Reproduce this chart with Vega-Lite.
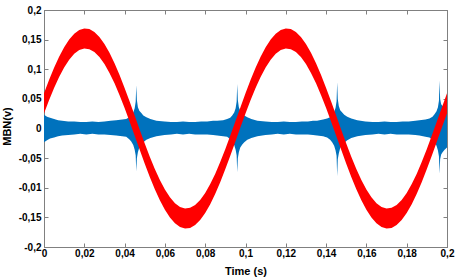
{
  "$schema": "https://vega.github.io/schema/vega-lite/v6.json",
  "width": 403,
  "height": 237,
  "autosize": {"type": "none"},
  "padding": {"left": 44, "top": 10, "right": 17, "bottom": 32},
  "background": "white",
  "config": {
    "view": {"stroke": "#808080", "strokeWidth": 1},
    "axis": {
      "grid": false,
      "domainColor": "#808080",
      "tickColor": "#808080",
      "tickSize": -4,
      "labelFont": "Liberation Sans",
      "labelFontWeight": "bold",
      "labelFontSize": 10,
      "labelColor": "#000000",
      "labelFlush": false,
      "labelOverlap": false,
      "titleFont": "Liberation Sans",
      "titleFontWeight": "bold",
      "titleFontSize": 11,
      "titleColor": "#000000"
    }
  },
  "datasets": {
    "blue": [
      {"t": 0, "lo": -0.023, "hi": 0.023},
      {"t": 0.0015, "lo": -0.02, "hi": 0.02},
      {"t": 0.003, "lo": -0.017, "hi": 0.018},
      {"t": 0.005, "lo": -0.015, "hi": 0.016},
      {"t": 0.007, "lo": -0.013, "hi": 0.014},
      {"t": 0.009, "lo": -0.012, "hi": 0.013},
      {"t": 0.012, "lo": -0.011, "hi": 0.012},
      {"t": 0.015, "lo": -0.01, "hi": 0.012},
      {"t": 0.018, "lo": -0.009, "hi": 0.011},
      {"t": 0.021, "lo": -0.01, "hi": 0.011},
      {"t": 0.024, "lo": -0.009, "hi": 0.012},
      {"t": 0.027, "lo": -0.01, "hi": 0.011},
      {"t": 0.03, "lo": -0.01, "hi": 0.012},
      {"t": 0.033, "lo": -0.011, "hi": 0.013},
      {"t": 0.0358, "lo": -0.012, "hi": 0.014},
      {"t": 0.0388, "lo": -0.013, "hi": 0.015},
      {"t": 0.0408, "lo": -0.014, "hi": 0.016},
      {"t": 0.0423, "lo": -0.018, "hi": 0.019},
      {"t": 0.0433, "lo": -0.022, "hi": 0.022},
      {"t": 0.0443, "lo": -0.028, "hi": 0.027},
      {"t": 0.045, "lo": -0.036, "hi": 0.034},
      {"t": 0.0455, "lo": -0.045, "hi": 0.045},
      {"t": 0.0458, "lo": -0.072, "hi": 0.073},
      {"t": 0.0461, "lo": -0.05, "hi": 0.048},
      {"t": 0.0466, "lo": -0.04, "hi": 0.036},
      {"t": 0.0473, "lo": -0.032, "hi": 0.03},
      {"t": 0.0483, "lo": -0.027, "hi": 0.026},
      {"t": 0.0493, "lo": -0.023, "hi": 0.022},
      {"t": 0.0508, "lo": -0.019, "hi": 0.019},
      {"t": 0.0528, "lo": -0.016, "hi": 0.016},
      {"t": 0.0558, "lo": -0.013, "hi": 0.013},
      {"t": 0.0598, "lo": -0.011, "hi": 0.012},
      {"t": 0.063, "lo": -0.01, "hi": 0.011},
      {"t": 0.066, "lo": -0.009, "hi": 0.011},
      {"t": 0.069, "lo": -0.01, "hi": 0.012},
      {"t": 0.072, "lo": -0.009, "hi": 0.011},
      {"t": 0.075, "lo": -0.01, "hi": 0.011},
      {"t": 0.078, "lo": -0.01, "hi": 0.012},
      {"t": 0.081, "lo": -0.01, "hi": 0.012},
      {"t": 0.0839, "lo": -0.011, "hi": 0.013},
      {"t": 0.0859, "lo": -0.012, "hi": 0.013},
      {"t": 0.0889, "lo": -0.013, "hi": 0.014},
      {"t": 0.0909, "lo": -0.014, "hi": 0.016},
      {"t": 0.0924, "lo": -0.018, "hi": 0.018},
      {"t": 0.0934, "lo": -0.022, "hi": 0.022},
      {"t": 0.0944, "lo": -0.028, "hi": 0.027},
      {"t": 0.0951, "lo": -0.036, "hi": 0.034},
      {"t": 0.0956, "lo": -0.045, "hi": 0.045},
      {"t": 0.0959, "lo": -0.074, "hi": 0.075},
      {"t": 0.0962, "lo": -0.05, "hi": 0.048},
      {"t": 0.0967, "lo": -0.04, "hi": 0.036},
      {"t": 0.0974, "lo": -0.032, "hi": 0.03},
      {"t": 0.0984, "lo": -0.027, "hi": 0.026},
      {"t": 0.0994, "lo": -0.023, "hi": 0.022},
      {"t": 0.1009, "lo": -0.019, "hi": 0.019},
      {"t": 0.1029, "lo": -0.016, "hi": 0.016},
      {"t": 0.1059, "lo": -0.013, "hi": 0.013},
      {"t": 0.1099, "lo": -0.011, "hi": 0.012},
      {"t": 0.113, "lo": -0.01, "hi": 0.011},
      {"t": 0.116, "lo": -0.009, "hi": 0.011},
      {"t": 0.119, "lo": -0.01, "hi": 0.012},
      {"t": 0.122, "lo": -0.009, "hi": 0.011},
      {"t": 0.125, "lo": -0.01, "hi": 0.011},
      {"t": 0.128, "lo": -0.01, "hi": 0.012},
      {"t": 0.131, "lo": -0.01, "hi": 0.012},
      {"t": 0.1335, "lo": -0.011, "hi": 0.013},
      {"t": 0.1355, "lo": -0.012, "hi": 0.013},
      {"t": 0.1385, "lo": -0.013, "hi": 0.015},
      {"t": 0.1405, "lo": -0.015, "hi": 0.017},
      {"t": 0.142, "lo": -0.019, "hi": 0.019},
      {"t": 0.143, "lo": -0.023, "hi": 0.023},
      {"t": 0.144, "lo": -0.029, "hi": 0.028},
      {"t": 0.1447, "lo": -0.037, "hi": 0.035},
      {"t": 0.1452, "lo": -0.046, "hi": 0.046},
      {"t": 0.1455, "lo": -0.08, "hi": 0.078},
      {"t": 0.1458, "lo": -0.052, "hi": 0.05},
      {"t": 0.1463, "lo": -0.042, "hi": 0.038},
      {"t": 0.147, "lo": -0.033, "hi": 0.031},
      {"t": 0.148, "lo": -0.028, "hi": 0.027},
      {"t": 0.149, "lo": -0.024, "hi": 0.023},
      {"t": 0.1505, "lo": -0.02, "hi": 0.02},
      {"t": 0.1525, "lo": -0.016, "hi": 0.017},
      {"t": 0.1555, "lo": -0.013, "hi": 0.014},
      {"t": 0.1595, "lo": -0.011, "hi": 0.012},
      {"t": 0.163, "lo": -0.01, "hi": 0.011},
      {"t": 0.166, "lo": -0.009, "hi": 0.011},
      {"t": 0.169, "lo": -0.01, "hi": 0.012},
      {"t": 0.172, "lo": -0.009, "hi": 0.011},
      {"t": 0.175, "lo": -0.01, "hi": 0.011},
      {"t": 0.178, "lo": -0.01, "hi": 0.012},
      {"t": 0.181, "lo": -0.01, "hi": 0.012},
      {"t": 0.1843, "lo": -0.011, "hi": 0.013},
      {"t": 0.1863, "lo": -0.012, "hi": 0.014},
      {"t": 0.1893, "lo": -0.014, "hi": 0.015},
      {"t": 0.1913, "lo": -0.015, "hi": 0.017},
      {"t": 0.1928, "lo": -0.019, "hi": 0.02},
      {"t": 0.1938, "lo": -0.023, "hi": 0.024},
      {"t": 0.1948, "lo": -0.029, "hi": 0.029},
      {"t": 0.1955, "lo": -0.037, "hi": 0.036},
      {"t": 0.196, "lo": -0.047, "hi": 0.047},
      {"t": 0.1963, "lo": -0.076, "hi": 0.081},
      {"t": 0.1966, "lo": -0.052, "hi": 0.05},
      {"t": 0.1971, "lo": -0.044, "hi": 0.041},
      {"t": 0.1978, "lo": -0.04, "hi": 0.038},
      {"t": 0.1988, "lo": -0.036, "hi": 0.034},
      {"t": 0.2, "lo": -0.032, "hi": 0.03}
    ],
    "red": [
      {"t": 0, "lo": 0.0254, "hi": 0.0594},
      {"t": 0.0025, "lo": 0.0477, "hi": 0.0817},
      {"t": 0.005, "lo": 0.0684, "hi": 0.1024},
      {"t": 0.0075, "lo": 0.087, "hi": 0.121},
      {"t": 0.01, "lo": 0.1031, "hi": 0.1371},
      {"t": 0.0125, "lo": 0.1162, "hi": 0.1502},
      {"t": 0.015, "lo": 0.126, "hi": 0.16},
      {"t": 0.0175, "lo": 0.1323, "hi": 0.1663},
      {"t": 0.02, "lo": 0.1349, "hi": 0.1689},
      {"t": 0.0225, "lo": 0.1338, "hi": 0.1678},
      {"t": 0.025, "lo": 0.129, "hi": 0.163},
      {"t": 0.0275, "lo": 0.1205, "hi": 0.1545},
      {"t": 0.03, "lo": 0.1087, "hi": 0.1427},
      {"t": 0.0325, "lo": 0.0938, "hi": 0.1278},
      {"t": 0.035, "lo": 0.0762, "hi": 0.1102},
      {"t": 0.0375, "lo": 0.0562, "hi": 0.0902},
      {"t": 0.04, "lo": 0.0345, "hi": 0.0685},
      {"t": 0.0425, "lo": 0.0115, "hi": 0.0455},
      {"t": 0.045, "lo": -0.0122, "hi": 0.0218},
      {"t": 0.0475, "lo": -0.036, "hi": -0.002},
      {"t": 0.05, "lo": -0.0594, "hi": -0.0254},
      {"t": 0.0525, "lo": -0.0817, "hi": -0.0477},
      {"t": 0.055, "lo": -0.1024, "hi": -0.0684},
      {"t": 0.0575, "lo": -0.121, "hi": -0.087},
      {"t": 0.06, "lo": -0.1371, "hi": -0.1031},
      {"t": 0.0625, "lo": -0.1502, "hi": -0.1162},
      {"t": 0.065, "lo": -0.16, "hi": -0.126},
      {"t": 0.0675, "lo": -0.1663, "hi": -0.1323},
      {"t": 0.07, "lo": -0.1689, "hi": -0.1349},
      {"t": 0.0725, "lo": -0.1678, "hi": -0.1338},
      {"t": 0.075, "lo": -0.163, "hi": -0.129},
      {"t": 0.0775, "lo": -0.1545, "hi": -0.1205},
      {"t": 0.08, "lo": -0.1427, "hi": -0.1087},
      {"t": 0.0825, "lo": -0.1278, "hi": -0.0938},
      {"t": 0.085, "lo": -0.1102, "hi": -0.0762},
      {"t": 0.0875, "lo": -0.0902, "hi": -0.0562},
      {"t": 0.09, "lo": -0.0685, "hi": -0.0345},
      {"t": 0.0925, "lo": -0.0455, "hi": -0.0115},
      {"t": 0.095, "lo": -0.0218, "hi": 0.0122},
      {"t": 0.0975, "lo": 0.002, "hi": 0.036},
      {"t": 0.1, "lo": 0.0254, "hi": 0.0594},
      {"t": 0.1025, "lo": 0.0477, "hi": 0.0817},
      {"t": 0.105, "lo": 0.0684, "hi": 0.1024},
      {"t": 0.1075, "lo": 0.087, "hi": 0.121},
      {"t": 0.11, "lo": 0.1031, "hi": 0.1371},
      {"t": 0.1125, "lo": 0.1162, "hi": 0.1502},
      {"t": 0.115, "lo": 0.126, "hi": 0.16},
      {"t": 0.1175, "lo": 0.1323, "hi": 0.1663},
      {"t": 0.12, "lo": 0.1349, "hi": 0.1689},
      {"t": 0.1225, "lo": 0.1338, "hi": 0.1678},
      {"t": 0.125, "lo": 0.129, "hi": 0.163},
      {"t": 0.1275, "lo": 0.1205, "hi": 0.1545},
      {"t": 0.13, "lo": 0.1087, "hi": 0.1427},
      {"t": 0.1325, "lo": 0.0938, "hi": 0.1278},
      {"t": 0.135, "lo": 0.0762, "hi": 0.1102},
      {"t": 0.1375, "lo": 0.0562, "hi": 0.0902},
      {"t": 0.14, "lo": 0.0345, "hi": 0.0685},
      {"t": 0.1425, "lo": 0.0115, "hi": 0.0455},
      {"t": 0.145, "lo": -0.0122, "hi": 0.0218},
      {"t": 0.1475, "lo": -0.036, "hi": -0.002},
      {"t": 0.15, "lo": -0.0594, "hi": -0.0254},
      {"t": 0.1525, "lo": -0.0817, "hi": -0.0477},
      {"t": 0.155, "lo": -0.1024, "hi": -0.0684},
      {"t": 0.1575, "lo": -0.121, "hi": -0.087},
      {"t": 0.16, "lo": -0.1371, "hi": -0.1031},
      {"t": 0.1625, "lo": -0.1502, "hi": -0.1162},
      {"t": 0.165, "lo": -0.16, "hi": -0.126},
      {"t": 0.1675, "lo": -0.1663, "hi": -0.1323},
      {"t": 0.17, "lo": -0.1689, "hi": -0.1349},
      {"t": 0.1725, "lo": -0.1678, "hi": -0.1338},
      {"t": 0.175, "lo": -0.163, "hi": -0.129},
      {"t": 0.1775, "lo": -0.1545, "hi": -0.1205},
      {"t": 0.18, "lo": -0.1427, "hi": -0.1087},
      {"t": 0.1825, "lo": -0.1278, "hi": -0.0938},
      {"t": 0.185, "lo": -0.1102, "hi": -0.0762},
      {"t": 0.1875, "lo": -0.0902, "hi": -0.0562},
      {"t": 0.19, "lo": -0.0685, "hi": -0.0345},
      {"t": 0.1925, "lo": -0.0455, "hi": -0.0115},
      {"t": 0.195, "lo": -0.0218, "hi": 0.0122},
      {"t": 0.1975, "lo": 0.002, "hi": 0.036},
      {"t": 0.2, "lo": 0.0254, "hi": 0.0594}
    ]
  },
  "layer": [
    {
      "data": {"name": "blue"},
      "mark": {"type": "area", "color": "#0072BD", "opacity": 1},
      "encoding": {
        "x": {
          "field": "t", "type": "quantitative",
          "scale": {"domain": [0, 0.2], "nice": false, "zero": false},
          "axis": {
            "orient": "bottom",
            "values": [0, 0.02, 0.04, 0.06, 0.08, 0.1, 0.12, 0.14, 0.16, 0.18, 0.2],
            "labelExpr": "replace(toString(datum.value), '.', ',')",
            "labelPadding": 5,
            "title": "Time (s)",
            "titleBaseline": "middle",
            "titleY": 24
          }
        },
        "y": {
          "field": "lo", "type": "quantitative",
          "scale": {"domain": [-0.2, 0.2], "nice": false, "zero": false},
          "axis": {
            "orient": "left",
            "values": [-0.2, -0.15, -0.1, -0.05, 0, 0.05, 0.1, 0.15, 0.2],
            "labelExpr": "datum.value == -0.1 ? '-0,01' : replace(toString(datum.value), '.', ',')",
            "labelPadding": 7,
            "title": "MBN(v)",
            "titleAngle": -90,
            "titleAlign": "center",
            "titleBaseline": "middle",
            "titleX": -37,
            "titleY": 116
          }
        },
        "y2": {"field": "hi"}
      }
    },
    {
      "data": {"name": "red"},
      "mark": {"type": "area", "color": "#FF0000", "opacity": 1},
      "encoding": {
        "x": {
          "field": "t", "type": "quantitative",
          "scale": {"domain": [0, 0.2], "nice": false, "zero": false},
          "axis": {
            "orient": "top",
            "values": [0, 0.02, 0.04, 0.06, 0.08, 0.1, 0.12, 0.14, 0.16, 0.18, 0.2],
            "labels": false,
            "title": null
          }
        },
        "y": {
          "field": "lo", "type": "quantitative",
          "scale": {"domain": [-0.2, 0.2], "nice": false, "zero": false},
          "axis": {
            "orient": "right",
            "values": [-0.2, -0.15, -0.1, -0.05, 0, 0.05, 0.1, 0.15, 0.2],
            "labels": false,
            "title": null
          }
        },
        "y2": {"field": "hi"}
      }
    }
  ],
  "resolve": {"axis": {"x": "independent", "y": "independent"}}
}
